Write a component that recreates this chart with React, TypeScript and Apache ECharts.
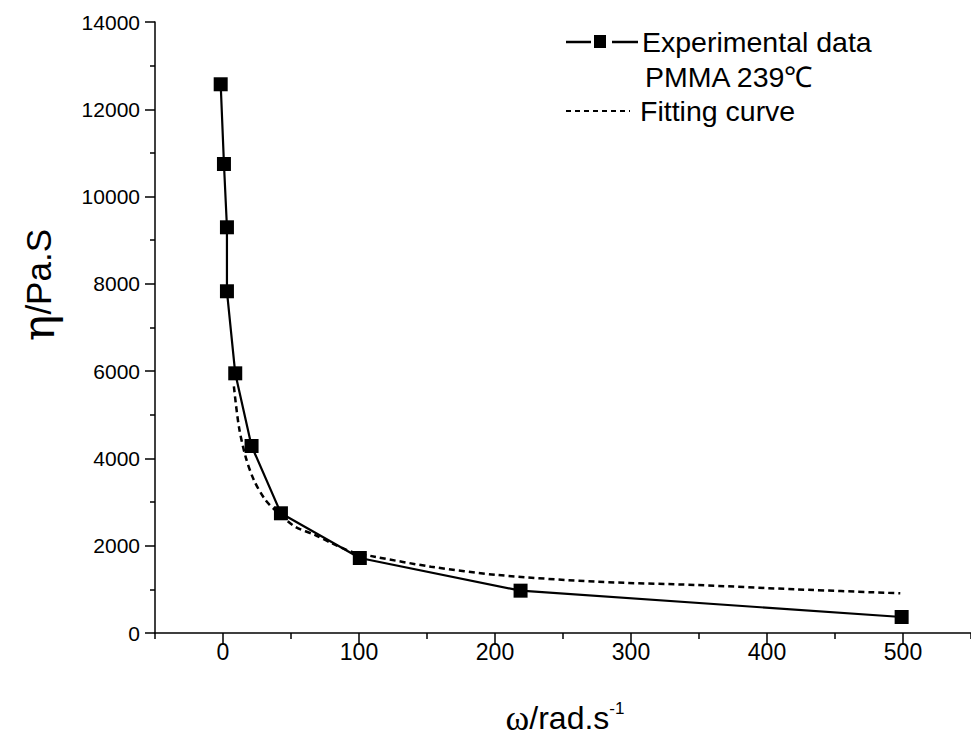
import React, { useEffect, useRef } from "react";
import * as echarts from "echarts";

const expOmega = [-1.7, 0.7, 2.9, 2.9, 9, 21, 42.6, 100.6, 218.8, 499];
const expEta = [12573, 10746, 9296, 7830, 5950, 4285, 2743, 1718, 970, 367];

const fitOmega = [8, 11.7, 16.6, 22.7, 31.2, 39.7, 53.1, 67.8, 80, 94.5, 111.6, 153, 202, 275, 348, 421, 498];
const fitEta = [5650, 4727, 4040, 3506, 3047, 2779, 2435, 2245, 2055, 1864, 1748, 1519, 1329, 1175, 1100, 1001, 909];

const xMajorTicks = [0, 100, 200, 300, 400, 500];
const xMinorTicks = [-50, 50, 150, 250, 350, 450, 550];

const legendExp = "Experimental data";
const legendExp2 = "PMMA 239℃";
const legendFit = "Fitting curve";

const FONT = "'Liberation Sans', Arial, sans-serif";

export default function App() {
  const ref = useRef<HTMLDivElement>(null);
  useEffect(() => {
    if (!ref.current) return;
    const chart = echarts.init(ref.current, undefined, { renderer: "svg" });
    const expData = expOmega.map((x, i) => [x, expEta[i]]);
    const fitData = fitOmega.map((x, i) => [x, fitEta[i]]);
    chart.setOption({
      animation: false,
      backgroundColor: "#ffffff",
      grid: { left: 155, top: 22, right: -5, bottom: 109, containLabel: false },
      xAxis: [
        {
          type: "value",
          min: -50,
          max: 550,
          axisLine: { show: true, onZero: false, lineStyle: { color: "#000", width: 1.5 } },
          axisTick: { show: true, length: 11, customValues: xMajorTicks, lineStyle: { color: "#000", width: 1.5 } },
          axisLabel: { customValues: xMajorTicks, color: "#000", fontSize: 23, fontFamily: FONT, margin: 7, formatter: (v: number) => String(v) },
          splitLine: { show: false },
        },
        {
          type: "value",
          min: -50,
          max: 550,
          position: "bottom",
          axisLine: { show: false, onZero: false },
          axisTick: { show: true, length: 6, customValues: xMinorTicks, lineStyle: { color: "#000", width: 1.5 } },
          axisLabel: { show: false },
          splitLine: { show: false },
        },
      ],
      yAxis: {
        type: "value",
        min: 0,
        max: 14000,
        interval: 2000,
        axisLine: { show: true, onZero: false, lineStyle: { color: "#000", width: 1.5 } },
        axisTick: { show: true, length: 10, lineStyle: { color: "#000", width: 1.5 } },
        minorTick: { show: true, splitNumber: 2, length: 5, lineStyle: { color: "#000", width: 1.5 } },
        axisLabel: { color: "#000", fontSize: 21, fontFamily: FONT, margin: 15, formatter: (v: number) => String(v) },
        splitLine: { show: false },
      },
      series: [
        {
          type: "line",
          name: "fit",
          data: fitData,
          smooth: 0.3,
          showSymbol: false,
          lineStyle: { color: "#000", width: 2.5, type: [6, 4] },
          z: 2,
        },
        {
          type: "line",
          name: "exp",
          data: expData,
          symbol: "rect",
          symbolSize: 14,
          itemStyle: { color: "#000" },
          lineStyle: { color: "#000", width: 2.2 },
          z: 3,
        },
      ],
      graphic: [
        { type: "line", shape: { x1: 566, y1: 42, x2: 591, y2: 42 }, style: { stroke: "#000", lineWidth: 2.5 } },
        { type: "rect", shape: { x: 594, y: 35, width: 12, height: 13 }, style: { fill: "#000" } },
        { type: "line", shape: { x1: 612, y1: 42, x2: 638, y2: 42 }, style: { stroke: "#000", lineWidth: 2.5 } },
        { type: "text", x: 642, y: 42, style: { text: legendExp, font: `28.5px ${FONT}`, fill: "#000", textVerticalAlign: "middle" } },
        { type: "text", x: 645, y: 77, style: { text: legendExp2, font: `28.5px ${FONT}`, fill: "#000", textVerticalAlign: "middle" } },
        { type: "line", shape: { x1: 566, y1: 111, x2: 630, y2: 111 }, style: { stroke: "#000", lineWidth: 2, lineDash: [5, 4] } },
        { type: "text", x: 640, y: 111, style: { text: legendFit, font: `28.5px ${FONT}`, fill: "#000", textVerticalAlign: "middle" } },
        {
          type: "text",
          x: 38,
          y: 285,
          rotation: Math.PI / 2,
          style: {
            text: "{e|η}{t|/Pa.S}",
            textAlign: "center",
            textVerticalAlign: "middle",
            fill: "#000",
            rich: {
              e: { fontFamily: "'DejaVu Serif', 'Liberation Serif', serif", fontSize: 44, fill: "#000" },
              t: { fontFamily: FONT, fontSize: 35, fill: "#000" },
            },
          },
        },
        {
          type: "text",
          x: 565,
          y: 718,
          style: {
            text: "{w|ω}{t|/rad.s}{s|-1}",
            textAlign: "center",
            textVerticalAlign: "middle",
            fill: "#000",
            rich: {
              w: { fontFamily: "'Liberation Serif', serif", fontSize: 36, fill: "#000" },
              t: { fontFamily: FONT, fontSize: 32, fill: "#000" },
              s: { fontFamily: FONT, fontSize: 17, fill: "#000", verticalAlign: "top", padding: [0, 0, 16, 0] },
            },
          },
        },
      ],
    });
    return () => chart.dispose();
  }, []);
  return (
    <div
      ref={ref}
      style={{ position: "absolute", left: 0, top: 0, width: 971, height: 742, background: "#fff" }}
    />
  );
}
